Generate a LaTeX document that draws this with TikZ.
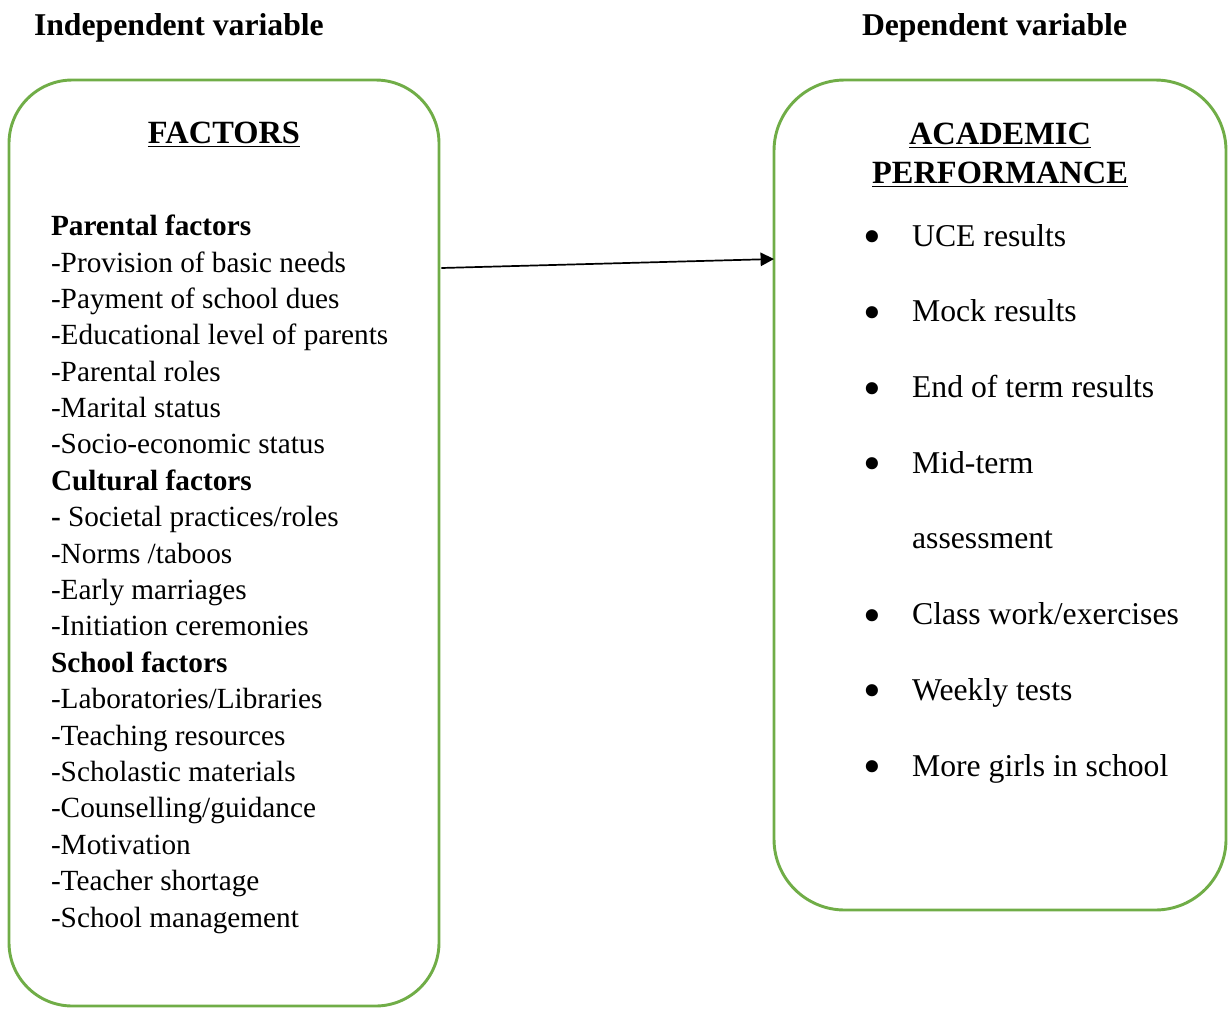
\documentclass[tikz,border=0pt]{standalone}
\usepackage{fontspec}
\usepackage{graphicx}
\setmainfont{Liberation Serif}
\usetikzlibrary{arrows.meta,fit}

\definecolor{boxgreen}{HTML}{70AD47}
\newcommand{\itembul}{\makebox[18.9pt][l]{\hspace*{-1.2pt}\raisebox{-3.1pt}{\scalebox{1.6}{\textbullet}}}}

\begin{document}
\begin{tikzpicture}[x=0.41pt,y=-0.41pt,
  every node/.style={inner sep=0pt,outer sep=0pt},
  greenbox/.style={draw=boxgreen,line width=1.2pt,rounded corners=#1,inner sep=0pt},
  vartitle/.style={font=\fontsize{13}{15}\selectfont\bfseries,anchor=base west},
  boxhead/.style={font=\fontsize{13.3}{16}\selectfont\bfseries,anchor=base}
]
\useasboundingbox (0,0) rectangle (1228,1008);

% variable titles
\node[vartitle] (indep) at (34,35) {Independent variable};
\node[vartitle] (dep) at (862,35) {Dependent variable};

% the two rounded boxes
\node[greenbox=26pt,fit={(9,80) (439,1006)}] (factors) {};
\node[greenbox=29pt,fit={(774,80) (1226,910)}] (perform) {};

% box headings
\node[boxhead] (facthead) at (224,143) {\underline{FACTORS}};
\node[boxhead] (acadhead) at (1000,144) {\underline{ACADEMIC}};
\node[boxhead] (perfhead) at (1000,183) {\underline{PERFORMANCE}};

% list of factors
\node[anchor=north west,align=left,font=\fontsize{12}{14.92}\selectfont] (factlist) at (51,215)
 {\textbf{Parental factors}\\
  -Provision of basic needs\\
  -Payment of school dues\\
  -Educational level of parents\\
  -Parental roles\\
  -Marital status\\
  -Socio-economic status\\
  \textbf{Cultural factors}\\
  \textbf{-} Societal practices/roles\\
  -Norms /taboos\\
  -Early marriages\\
  -Initiation ceremonies\\
  \textbf{School factors}\\
  -Laboratories/Libraries\\
  -Teaching resources\\
  -Scholastic materials\\
  -Counselling/guidance\\
  -Motivation\\
  -Teacher shortage\\
  -School management};

% list of results
\node[anchor=north west,align=left,font=\fontsize{13}{31.05}\selectfont] (perflist) at (866,224)
 {\itembul UCE results\\
  \itembul Mock results\\
  \itembul End of term results\\
  \itembul Mid-term\\
  \hspace*{18.9pt}assessment\\
  \itembul Class work/exercises\\
  \itembul Weekly tests\\
  \itembul More girls in school};

% arrow between the boxes
\draw[-{Triangle[length=5.5pt,width=5.5pt]},line width=0.7pt]
 ([xshift=1pt]factors.east |- 0,268) -- (perform.west |- 0,259);

\end{tikzpicture}
\end{document}
